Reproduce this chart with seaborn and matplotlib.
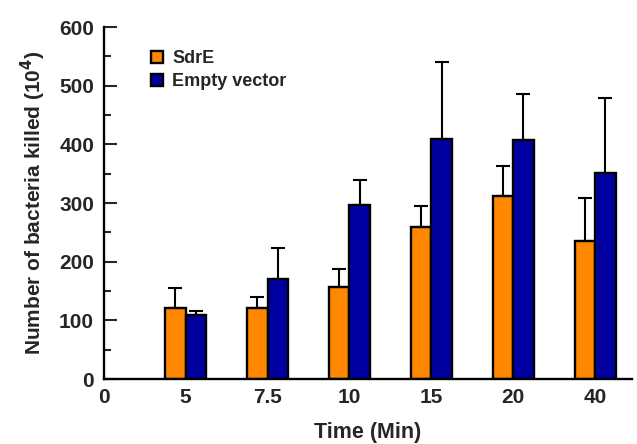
import numpy as np
import pandas as pd
import matplotlib
matplotlib.use("Agg")
import matplotlib.pyplot as plt
import seaborn as sns
from matplotlib.ticker import MultipleLocator

# ---- data ----
times = ["5", "7.5", "10", "15", "20", "40"]
sdre_mean = [121, 122, 157, 260, 313, 236]
sdre_err = [34, 18, 31, 35, 50, 72]
empty_mean = [109, 171, 296, 409, 407, 351]
empty_err = [7, 52, 44, 131, 79, 129]
series_names = ["SdrE", "Empty vector"]
order = ["0"] + times
colors = ["#FF8800", "#0000A0"]

df = pd.DataFrame({
    "Time": times * 2,
    "Value": sdre_mean + empty_mean,
    "Err": sdre_err + empty_err,
    "Group": [series_names[0]] * len(times) + [series_names[1]] * len(times),
})

sns.set_theme(style="white")
plt.rcParams["font.family"] = ["Liberation Sans", "DejaVu Sans"]
plt.rcParams["font.weight"] = "bold"

fig = plt.figure(figsize=(6.37, 4.44), dpi=100)
ax = fig.add_axes([0.163, 0.146, 0.829, 0.793])

sns.barplot(data=df, x="Time", y="Value", hue="Group", order=order,
            hue_order=series_names, palette=colors, width=0.5,
            errorbar=None, edgecolor="black", linewidth=1.7, ax=ax,
            saturation=1)

# one-sided error bars, placed at bar centers from the drawn patches
for cont, name in zip(ax.containers, series_names):
    sub = df[df["Group"] == name]
    xs, tops = [], []
    for bar in cont:
        if np.isnan(bar.get_height()):
            continue
        xs.append(bar.get_x() + bar.get_width() / 2)
        tops.append(bar.get_height())
    errs = sub["Err"].values
    ax.errorbar(xs, tops, yerr=[np.zeros(len(errs)), errs], fmt="none",
                ecolor="black", elinewidth=1.5, capsize=5, capthick=1.5,
                zorder=1)

ax.set_ylim(0, 600)
ax.set_xlim(0, 6.45)
ax.yaxis.set_major_locator(MultipleLocator(100))
ax.yaxis.set_minor_locator(MultipleLocator(50))
ax.tick_params(axis="y", which="major", direction="in", length=9, width=1.5,
               labelsize=15, left=True, pad=7)
ax.tick_params(axis="y", which="minor", direction="in", length=5, width=1.5,
               left=True)
ax.tick_params(axis="x", length=0, labelsize=15, pad=6)
for lab in ax.get_xticklabels() + ax.get_yticklabels():
    lab.set_fontweight("bold")

for s in ["top", "right"]:
    ax.spines[s].set_visible(False)
for s in ["left", "bottom"]:
    ax.spines[s].set_linewidth(1.7)
    ax.spines[s].set_color("black")

ax.set_xlabel("Time (Min)", fontsize=15.5, fontweight="bold", labelpad=11)
ax.set_ylabel("Number of bacteria killed (10$^\\mathbf{4}$)", fontsize=15,
              fontweight="bold", labelpad=8)

leg = ax.legend(loc="upper left", bbox_to_anchor=(0.075, 0.955), frameon=False,
                fontsize=13, handlelength=0.7, handleheight=0.7,
                handletextpad=0.5, labelspacing=0.35, borderaxespad=0)
for t in leg.get_texts():
    t.set_fontweight("bold")

fig.savefig("out.png", dpi=100)
